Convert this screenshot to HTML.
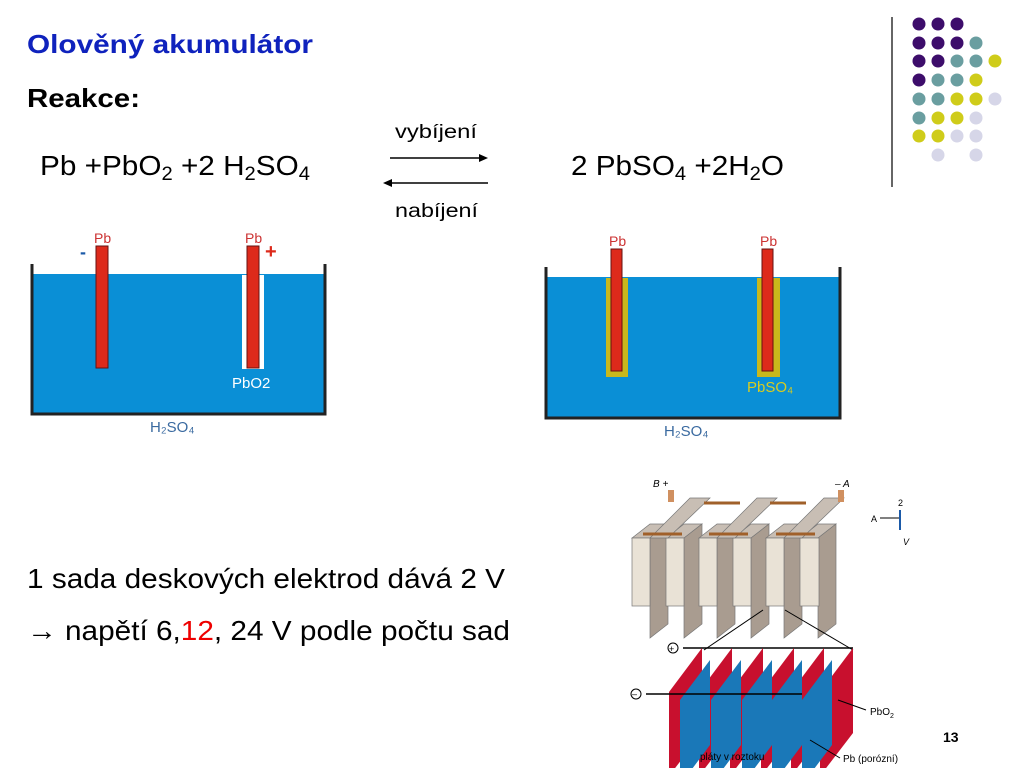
<!DOCTYPE html>
<html><head><meta charset="utf-8"><style>
body{margin:0;width:1024px;height:768px;background:#fff;position:relative;overflow:hidden;font-family:"Liberation Sans",Arial,sans-serif}
</style></head><body>
<svg width="1024" height="768" style="position:absolute;left:0;top:0" font-family="Liberation Sans, Arial, sans-serif">
<text x="27" y="53" font-size="26" font-weight="bold" fill="#0f22bd" textLength="286" lengthAdjust="spacingAndGlyphs">Olověný akumulátor</text>
<text x="27" y="107" font-size="26" font-weight="bold" textLength="113" lengthAdjust="spacingAndGlyphs">Reakce:</text>
<text x="40" y="175" font-size="28" textLength="270" lengthAdjust="spacingAndGlyphs">Pb +PbO<tspan font-size="19" dy="5">2</tspan><tspan dy="-5"> +2 H</tspan><tspan font-size="19" dy="5">2</tspan><tspan dy="-5">SO</tspan><tspan font-size="19" dy="5">4</tspan></text>
<text x="571" y="175" font-size="28" textLength="213" lengthAdjust="spacingAndGlyphs">2 PbSO<tspan font-size="19" dy="5">4</tspan><tspan dy="-5"> +2H</tspan><tspan font-size="19" dy="5">2</tspan><tspan dy="-5">O</tspan></text>
<text x="395" y="138" font-size="19" textLength="82" lengthAdjust="spacingAndGlyphs">vybíjení</text>
<text x="395" y="217" font-size="19" textLength="83" lengthAdjust="spacingAndGlyphs">nabíjení</text>
<text x="27" y="588" font-size="28" textLength="478" lengthAdjust="spacingAndGlyphs">1 sada deskových elektrod dává 2 V</text>
<text x="27" y="640" font-size="28" textLength="483" lengthAdjust="spacingAndGlyphs">→ napětí 6,<tspan fill="#e00">12</tspan>, 24 V podle počtu sad</text>
<text x="943" y="742" font-size="14" font-weight="bold">13</text>
<line x1="390" y1="158" x2="482" y2="158" stroke="#000" stroke-width="1.5"/><path d="M488 158 l-9 -4 v8z"/>
<line x1="390" y1="183" x2="488" y2="183" stroke="#000" stroke-width="1.5"/><path d="M383 183 l9 -4 v8z"/>
<line x1="892" y1="17" x2="892" y2="187" stroke="#333" stroke-width="1.5"/>
<g>
<circle cx="919" cy="24" r="6.5" fill="#3d0d6b"/><circle cx="938" cy="24" r="6.5" fill="#3d0d6b"/><circle cx="957" cy="24" r="6.5" fill="#3d0d6b"/>
<circle cx="919" cy="43" r="6.5" fill="#3d0d6b"/><circle cx="938" cy="43" r="6.5" fill="#3d0d6b"/><circle cx="957" cy="43" r="6.5" fill="#3d0d6b"/><circle cx="976" cy="43" r="6.5" fill="#6a9ea0"/>
<circle cx="919" cy="61" r="6.5" fill="#3d0d6b"/><circle cx="938" cy="61" r="6.5" fill="#3d0d6b"/><circle cx="957" cy="61" r="6.5" fill="#6a9ea0"/><circle cx="976" cy="61" r="6.5" fill="#6a9ea0"/><circle cx="995" cy="61" r="6.5" fill="#cfcc1a"/>
<circle cx="919" cy="80" r="6.5" fill="#3d0d6b"/><circle cx="938" cy="80" r="6.5" fill="#6a9ea0"/><circle cx="957" cy="80" r="6.5" fill="#6a9ea0"/><circle cx="976" cy="80" r="6.5" fill="#cfcc1a"/>
<circle cx="919" cy="99" r="6.5" fill="#6a9ea0"/><circle cx="938" cy="99" r="6.5" fill="#6a9ea0"/><circle cx="957" cy="99" r="6.5" fill="#cfcc1a"/><circle cx="976" cy="99" r="6.5" fill="#cfcc1a"/><circle cx="995" cy="99" r="6.5" fill="#d6d6e8"/>
<circle cx="919" cy="118" r="6.5" fill="#6a9ea0"/><circle cx="938" cy="118" r="6.5" fill="#cfcc1a"/><circle cx="957" cy="118" r="6.5" fill="#cfcc1a"/><circle cx="976" cy="118" r="6.5" fill="#d6d6e8"/>
<circle cx="919" cy="136" r="6.5" fill="#cfcc1a"/><circle cx="938" cy="136" r="6.5" fill="#cfcc1a"/><circle cx="957" cy="136" r="6.5" fill="#d6d6e8"/><circle cx="976" cy="136" r="6.5" fill="#d6d6e8"/>
<circle cx="938" cy="155" r="6.5" fill="#d6d6e8"/><circle cx="976" cy="155" r="6.5" fill="#d6d6e8"/>
</g>
<!-- tank 1 -->
<rect x="32" y="274" width="293" height="140" fill="#0a8fd6"/>
<path d="M32 264 V414 H325 V264" fill="none" stroke="#222" stroke-width="3"/>
<rect x="242" y="275" width="22" height="94" fill="#fff"/>
<rect x="96" y="246" width="12" height="122" fill="#dd2a1b" stroke="#611" stroke-width="1"/>
<rect x="247" y="246" width="12" height="122" fill="#dd2a1b" stroke="#611" stroke-width="1"/>
<text x="94" y="243" font-size="14" fill="#c33">Pb</text><text x="245" y="243" font-size="14" fill="#c33">Pb</text>
<text x="80" y="258" font-size="18" fill="#1b5aa8" font-weight="bold">-</text>
<text x="265" y="258" font-size="20" fill="#dd2a1b" font-weight="bold">+</text>
<text x="232" y="388" font-size="15" fill="#fff">PbO2</text>
<text x="150" y="432" font-size="15" fill="#3a6aa0">H₂SO₄</text>
<!-- tank 2 -->
<rect x="546" y="277" width="294" height="141" fill="#0a8fd6"/>
<path d="M546 267 V418 H840 V267" fill="none" stroke="#222" stroke-width="3"/>
<rect x="606" y="278" width="22" height="99" fill="#c9b81c"/>
<rect x="757" y="278" width="23" height="99" fill="#c9b81c"/>
<rect x="611" y="249" width="11" height="122" fill="#dd2a1b" stroke="#611" stroke-width="1"/>
<rect x="762" y="249" width="11" height="122" fill="#dd2a1b" stroke="#611" stroke-width="1"/>
<text x="609" y="246" font-size="14" fill="#c33">Pb</text><text x="760" y="246" font-size="14" fill="#c33">Pb</text>
<text x="747" y="392" font-size="15" fill="#d8cc20">PbSO₄</text>
<text x="664" y="436" font-size="15" fill="#3a6aa0">H₂SO₄</text>
<!-- battery -->
<g>
<g fill="#e9e2d6" stroke="#777" stroke-width="0.7">
<path d="M632 538 l18 -14 h18 l-18 14z" fill="#c8beb4"/>
<path d="M650 538 l18 -14 v100 l-18 14z" fill="#a99c90"/><rect x="632" y="538" width="18" height="68"/>
<path d="M666 538 l18 -14 h18 l-18 14z" fill="#c8beb4"/>
<path d="M684 538 l18 -14 v100 l-18 14z" fill="#a99c90"/><rect x="666" y="538" width="18" height="68"/>
<path d="M699 538 l18 -14 h18 l-18 14z" fill="#c8beb4"/>
<path d="M717 538 l18 -14 v100 l-18 14z" fill="#a99c90"/><rect x="699" y="538" width="18" height="68"/>
<path d="M733 538 l18 -14 h18 l-18 14z" fill="#c8beb4"/>
<path d="M751 538 l18 -14 v100 l-18 14z" fill="#a99c90"/><rect x="733" y="538" width="18" height="68"/>
<path d="M766 538 l18 -14 h18 l-18 14z" fill="#c8beb4"/>
<path d="M784 538 l18 -14 v100 l-18 14z" fill="#a99c90"/><rect x="766" y="538" width="18" height="68"/>
<path d="M800 538 l18 -14 h18 l-18 14z" fill="#c8beb4"/>
<path d="M818 538 l18 -14 v100 l-18 14z" fill="#a99c90"/><rect x="800" y="538" width="19" height="68"/>
<path d="M650 538 l40 -40 h20 l-42 40z" fill="#c8beb4"/>
<path d="M717 538 l40 -40 h20 l-42 40z" fill="#c8beb4"/>
<path d="M784 538 l40 -40 h20 l-42 40z" fill="#c8beb4"/>
</g>
<g stroke="#a0602a" stroke-width="3"><line x1="643" y1="534" x2="682" y2="534"/><line x1="709" y1="534" x2="748" y2="534"/><line x1="776" y1="534" x2="815" y2="534"/><line x1="704" y1="503" x2="740" y2="503"/><line x1="770" y1="503" x2="806" y2="503"/></g>
<rect x="668" y="490" width="6" height="12" fill="#d09060"/><rect x="838" y="490" width="6" height="12" fill="#d09060"/>
<text x="653" y="487" font-size="10" font-style="italic">B +</text><text x="835" y="487" font-size="10" font-style="italic">– A</text>
<text x="871" y="522" font-size="9">A</text><line x1="880" y1="518" x2="900" y2="518" stroke="#000"/><line x1="900" y1="510" x2="900" y2="530" stroke="#1b5aa8" stroke-width="2"/><text x="898" y="506" font-size="9">2</text><text x="903" y="545" font-size="9" font-style="italic">V</text>
<line x1="763" y1="610" x2="704" y2="650" stroke="#000"/><line x1="785" y1="610" x2="853" y2="650" stroke="#000"/>
<line x1="683" y1="648" x2="853" y2="648" stroke="#000" stroke-width="1.5"/>
<circle cx="673" cy="648" r="5" fill="none" stroke="#000"/><text x="669" y="652" font-size="9">+</text>
<g fill="#c8102e">
<path d="M669 692 l33 -44 v85 l-33 43z"/><path d="M699 692 l33 -44 v85 l-33 43z"/><path d="M730 692 l33 -44 v85 l-33 43z"/><path d="M761 692 l33 -44 v85 l-33 43z"/><path d="M791 692 l33 -44 v85 l-33 43z"/><path d="M820 692 l33 -44 v85 l-33 43z"/>
</g>
<g fill="#1a78b8">
<path d="M680 700 l30 -40 v85 l-30 40z"/><path d="M711 700 l30 -40 v85 l-30 40z"/><path d="M742 700 l30 -40 v85 l-30 40z"/><path d="M772 700 l30 -40 v85 l-30 40z"/><path d="M802 700 l30 -40 v85 l-30 40z"/>
</g>
<line x1="646" y1="694" x2="802" y2="694" stroke="#000" stroke-width="1.5"/>
<circle cx="636" cy="694" r="5" fill="none" stroke="#000"/><text x="632" y="697" font-size="9">–</text>
<line x1="838" y1="700" x2="866" y2="710" stroke="#000"/><text x="870" y="715" font-size="10">PbO<tspan font-size="7" dy="3">2</tspan></text>
<line x1="810" y1="740" x2="840" y2="758" stroke="#000"/><text x="843" y="762" font-size="10">Pb (porózní)</text>
<text x="700" y="760" font-size="10">pláty v roztoku</text>
</g>
</svg>
</body></html>
